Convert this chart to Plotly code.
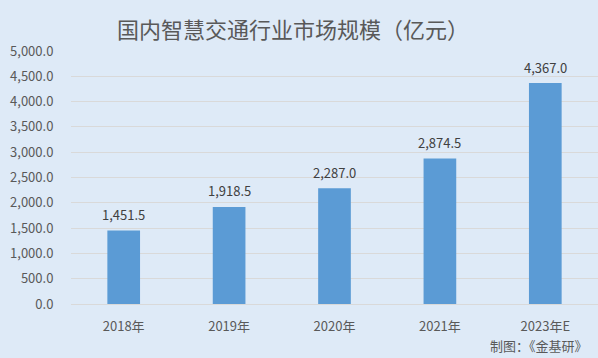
import plotly.graph_objects as go

categories = ["2018年", "2019年", "2020年", "2021年", "2023年E"]
values = [1451.5, 1918.5, 2287.0, 2874.5, 4367.0]
y_ticks = [0, 500, 1000, 1500, 2000, 2500, 3000, 3500, 4000, 4500, 5000]

font_family = "Microsoft YaHei, Noto Sans CJK SC, sans-serif"
bg = "#DEEAF7"

fig = go.Figure()
fig.add_trace(go.Bar(
    x=categories, y=values,
    marker=dict(color="#5B9BD5", line=dict(width=0)),
    width=0.31,
    hoverinfo="skip",
))

for c, v in zip(categories, values):
    fig.add_annotation(x=c, y=v, text=f"{v:,.1f}", showarrow=False,
                       xanchor="center", yanchor="middle", yshift=16,
                       font=dict(size=13, color="#404040", family=font_family))

fig.update_layout(
    width=598, height=358,
    margin=dict(l=71, r=0, t=51, b=54),
    paper_bgcolor=bg,
    plot_bgcolor=bg,
    showlegend=False,
    title=dict(text="国内智慧交通行业市场规模（亿元）", x=293 / 598, xanchor="center",
               y=1 - 30 / 358, yanchor="middle",
               font=dict(size=22, color="#595959", family=font_family)),
    xaxis=dict(showgrid=False, showline=True, linecolor="#D9D9D9", linewidth=1,
               ticks="outside", ticklen=10, tickcolor=bg,
               tickfont=dict(size=13, color="#595959", family=font_family)),
    yaxis=dict(range=[0, 5000], tickvals=y_ticks,
               ticktext=[f"{t:,.1f}" for t in y_ticks],
               showgrid=True, gridcolor="#D9D9D9", gridwidth=1,
               zeroline=False, showline=False,
               ticks="outside", ticklen=14, tickcolor=bg,
               tickfont=dict(size=13, color="#595959", family=font_family)),
)
fig.add_annotation(text="制图：《金基研》", xref="paper", yref="paper",
                   x=(488 - 71) / 527, y=(304 - 345) / 253, xanchor="left", yanchor="middle",
                   showarrow=False,
                   font=dict(size=13, color="#595959", family=font_family))

fig.write_html("out.html", config={"displayModeBar": False},
               post_script="document.body.style.margin='0';")
